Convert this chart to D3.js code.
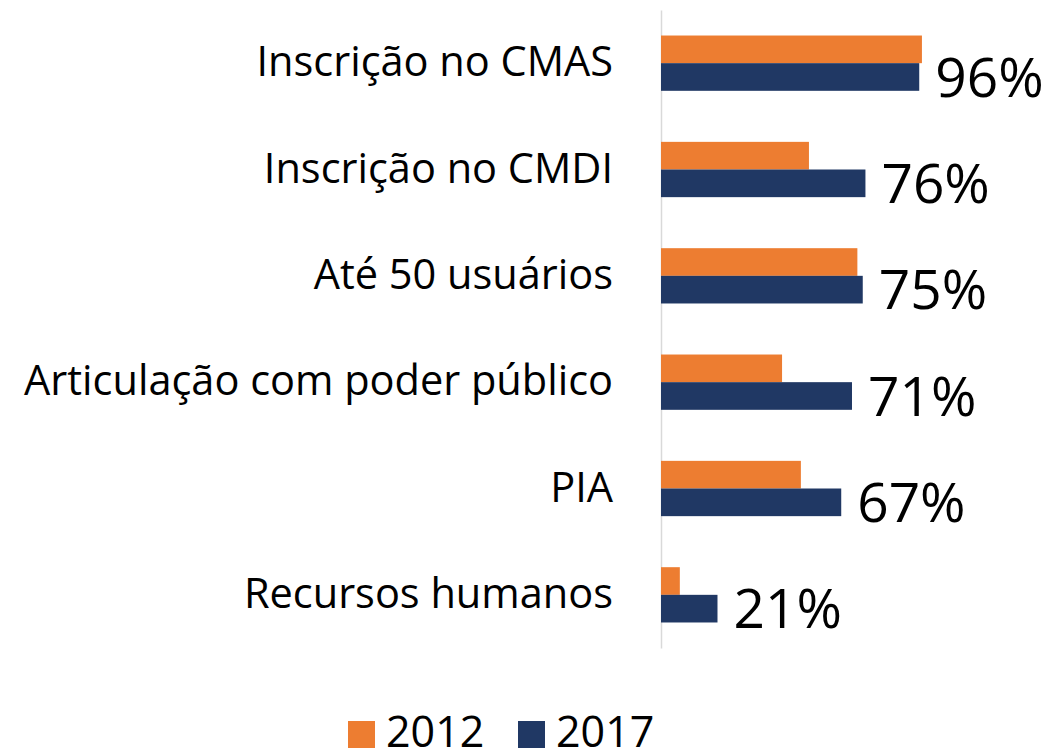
<!DOCTYPE html>
<html>
<head>
<meta charset="utf-8">
<script src="https://cdn.jsdelivr.net/npm/d3@7"></script>
<style>
  body { margin: 0; background: #fff; }
  svg { display: block; font-family: "Open Sans", "Noto Sans", sans-serif; }
  .axis .domain { stroke: #d9d9d9; stroke-width: 1.5px; }
</style>
</head>
<body>
<svg id="chart" width="1049" height="748"></svg>
<script>
// categories top to bottom
const categories = [
  "Inscrição no CMAS",
  "Inscrição no CMDI",
  "Até 50 usuários",
  "Articulação com poder público",
  "PIA",
  "Recursos humanos"
];
const seriesNames = ["2012", "2017"];
const values2012 = [97, 55, 73, 45, 52, 7];
const values2017 = [96, 76, 75, 71, 67, 21];
const colors = ["#ED7D31", "#203864"];

const rows = categories.map((c, i) => ({
  cat: c,
  vals: [values2012[i], values2017[i]]
}));

const svg = d3.select("#chart");

const x = d3.scaleLinear().domain([0, 100]).range([661, 930]);

const y = d3.scaleBand()
  .domain(categories)
  .range([10, 648])
  .paddingInner(0.48)
  .paddingOuter(0.24);

const ySub = d3.scaleBand()
  .domain(seriesNames)
  .range([0, y.bandwidth()]);

// category axis
const axis = svg.append("g")
  .attr("class", "axis")
  .attr("transform", "translate(" + x(0) + ",0)")
  .call(d3.axisLeft(y).tickSize(0).tickPadding(48));

axis.selectAll("text")
  .attr("font-size", "41.5px")
  .attr("fill", "#000")
  .attr("font-family", "'Open Sans', sans-serif");

// bars
const groups = svg.append("g")
  .selectAll("g")
  .data(rows)
  .enter()
  .append("g")
  .attr("transform", (d) => "translate(0," + y(d.cat) + ")");

groups.selectAll("rect")
  .data((d) => d.vals.map((v, i) => ({ v: v, s: seriesNames[i], i: i })))
  .enter()
  .append("rect")
  .attr("x", x(0))
  .attr("y", (d) => ySub(d.s))
  .attr("width", (d) => x(d.v) - x(0))
  .attr("height", ySub.bandwidth())
  .attr("fill", (d) => colors[d.i]);

// value labels for 2017
groups.append("text")
  .attr("x", (d) => x(d.vals[1]) + 16)
  .attr("y", ySub("2017") + ySub.bandwidth() / 2)
  .attr("dy", "0.36em")
  .attr("font-size", "55px")
  .attr("fill", "#000")
  .text((d) => d.vals[1] + "%");

// legend
const legendX = [348, 518];
const legend = svg.append("g")
  .selectAll("g")
  .data(seriesNames)
  .enter()
  .append("g")
  .attr("transform", (d, i) => "translate(" + legendX[i] + ",0)");

legend.append("rect")
  .attr("x", 0)
  .attr("y", 721)
  .attr("width", 27)
  .attr("height", 27)
  .attr("fill", (d, i) => colors[i]);

legend.append("text")
  .attr("x", 38)
  .attr("y", 747)
  .attr("font-size", "43px")
  .attr("fill", "#000")
  .text((d) => d);
</script>
</body>
</html>
